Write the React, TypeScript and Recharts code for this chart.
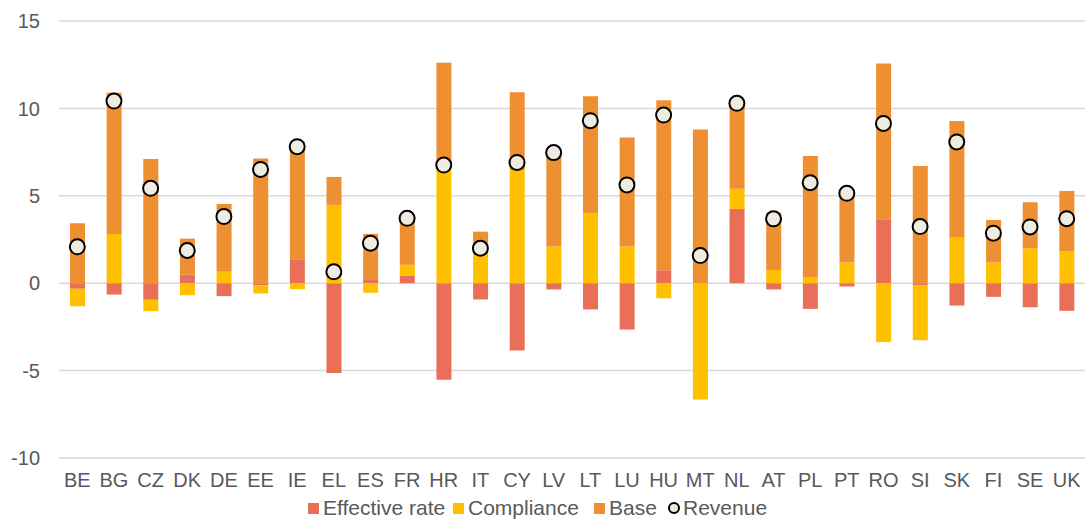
import React from "react";
import {
  Bar,
  CartesianGrid,
  ComposedChart,
  Line,
  XAxis,
  YAxis,
} from "recharts";

const countries = [
  "BE", "BG", "CZ", "DK", "DE", "EE", "IE", "EL", "ES", "FR", "HR", "IT", "CY", "LV",
  "LT", "LU", "HU", "MT", "NL", "AT", "PL", "PT", "RO", "SI", "SK", "FI", "SE", "UK",
];

const effectiveRate = [
  -0.32, -0.65, -0.95, 0.48, -0.74, -0.13, 1.37, -5.14, 0.23, 0.42, -5.52, -0.93, -3.85, -0.36,
  -1.5, -2.65, 0.74, 0, 4.25, -0.36, -1.47, -0.19, 3.66, -0.11, -1.28, -0.78, -1.37, -1.58,
];

const compliance = [
  -1.0, 2.82, -0.65, -0.69, 0.65, -0.46, -0.34, 4.48, -0.55, 0.63, 6.76, 2.1, 6.48, 2.1,
  4.0, 2.1, -0.86, -6.65, 1.16, 0.76, 0.36, 1.18, -3.37, -3.15, 2.65, 1.18, 2.0, 1.83,
];

const base = [
  3.43, 8.08, 7.1, 2.07, 3.88, 7.14, 6.73, 1.6, 2.59, 2.66, 5.85, 0.85, 4.45, 5.61,
  6.7, 6.24, 9.72, 8.8, 5.0, 3.28, 6.92, 4.0, 8.91, 6.7, 6.63, 2.44, 2.63, 3.45,
];

const revenue = [
  2.08, 10.42, 5.43, 1.87, 3.81, 6.51, 7.81, 0.65, 2.29, 3.71, 6.76, 2.0, 6.91, 7.47,
  9.3, 5.62, 9.62, 1.58, 10.29, 3.68, 5.75, 5.14, 9.14, 3.24, 8.08, 2.86, 3.22, 3.69,
];

const yTicks = [-10, -5, 0, 5, 10, 15];

const COLORS = {
  effective: "#E96F59",
  compliance: "#FFC000",
  base: "#EE8F32",
};

const FONT = "'Liberation Sans', Arial, sans-serif";
const TEXT = "#595959";

const data = countries.map((c, i) => ({
  country: c,
  effective: effectiveRate[i],
  compliance: compliance[i],
  base: base[i],
  revenue: revenue[i],
}));

function ChartLegend() {
  const square = (color: string) => (
    <span
      style={{
        display: "inline-block",
        width: 11,
        height: 11,
        background: color,
        marginRight: 4,
        flex: "none",
      }}
    />
  );
  const item = (w: number) => ({ display: "flex", alignItems: "center", width: w });
  return (
    <div
      style={{
        position: "absolute",
        left: 308,
        top: 497,
        display: "flex",
        fontFamily: FONT,
        fontSize: 21,
        color: TEXT,
        lineHeight: "22px",
        whiteSpace: "nowrap",
      }}
    >
      <div style={item(145)}>{square(COLORS.effective)}Effective rate</div>
      <div style={item(141)}>{square(COLORS.compliance)}Compliance</div>
      <div style={item(74)}>{square(COLORS.base)}Base</div>
      <div style={item(100)}>
        <span
          style={{
            display: "inline-block",
            width: 8,
            height: 8,
            borderRadius: "50%",
            border: "2px solid #000",
            background: "#EEECE1",
            marginRight: 3,
            flex: "none",
          }}
        />
        Revenue
      </div>
    </div>
  );
}

export default function App() {
  return (
    <div
      style={{
        position: "absolute",
        left: 0,
        top: 0,
        width: 1085,
        height: 519,
        overflow: "hidden",
        background: "#fff",
      }}
    >
      <ComposedChart
        width={1085}
        height={519}
        data={data}
        stackOffset="sign"
        margin={{ top: 21, right: 0, left: 0, bottom: 21 }}
      >
        <CartesianGrid vertical={false} stroke="#D9D9D9" strokeWidth={1.5} />
        <XAxis
          dataKey="country"
          axisLine={false}
          tickLine={false}
          tickSize={0}
          tickMargin={15}
          interval={0}
          height={40}
          tick={{ fill: TEXT, fontSize: 20, fontFamily: FONT }}
        />
        <YAxis
          domain={[-10, 15]}
          ticks={yTicks}
          axisLine={false}
          tickLine={false}
          tickSize={0}
          tickMargin={19}
          width={59}
          tick={{ fill: TEXT, fontSize: 20, fontFamily: FONT }}
        />
        <Bar dataKey="effective" stackId="a" fill={COLORS.effective} barSize={15} isAnimationActive={false} />
        <Bar dataKey="compliance" stackId="a" fill={COLORS.compliance} barSize={15} isAnimationActive={false} />
        <Bar dataKey="base" stackId="a" fill={COLORS.base} barSize={15} isAnimationActive={false} />
        <Line
          dataKey="revenue"
          stroke="none"
          dot={{ r: 7.5, fill: "#EEECE1", stroke: "#000", strokeWidth: 2 }}
          activeDot={false}
          isAnimationActive={false}
        />
      </ComposedChart>
      <ChartLegend />
    </div>
  );
}
